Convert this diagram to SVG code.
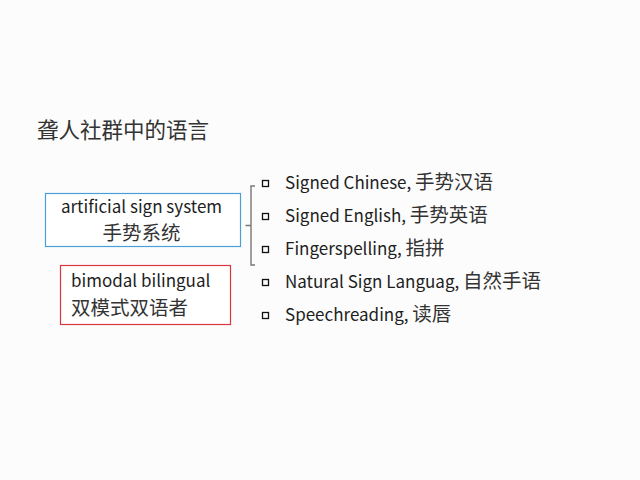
<svg xmlns="http://www.w3.org/2000/svg" width="640" height="480" viewBox="0 0 640 480">
<style>
text{font-family:"Noto Sans CJK SC","Noto Sans",sans-serif;fill:#1e1e1e}
.lat{font-size:17px}
.cjk{font-size:19.5px;fill:#333}
.title{font-size:21.5px;fill:#333}
.bul{fill:none;stroke:#111;stroke-width:1.3}
.brace{fill:none;stroke:#777;stroke-width:1.4}
</style>
<rect width="640" height="480" fill="#fcfcfc"/>
<g id="title"><text class="title" x="37" y="138">聋人社群中的语言</text></g>
<g id="box-artificial">
<rect x="45.5" y="193.5" width="195" height="53" fill="#fff" stroke="#4a9fd8" stroke-width="1.2"/>
<text class="lat" x="141.5" y="212.5" text-anchor="middle">artificial sign system</text>
<text class="cjk" x="141.5" y="240" text-anchor="middle">手势系统</text>
</g>
<g id="box-bimodal">
<rect x="60.5" y="265.5" width="170" height="59" fill="#fff" stroke="#d9363e" stroke-width="1.2"/>
<text class="lat" x="71" y="286.5">bimodal bilingual</text>
<text class="cjk" x="71" y="315">双模式双语者</text>
</g>
<g id="connectors">
<path class="brace" d="M255,186 H251 V225.5 H245.5 M251,225.5 V265 H255"/>
</g>
<g id="item1"><rect class="bul" x="262.5" y="180.5" width="6" height="6"/><text x="285" y="189"><tspan class="lat">Signed Chinese, </tspan><tspan class="cjk">手势汉语</tspan></text></g>
<g id="item2"><rect class="bul" x="262.5" y="213.5" width="6" height="6"/><text x="285" y="222"><tspan class="lat">Signed English, </tspan><tspan class="cjk">手势英语</tspan></text></g>
<g id="item3"><rect class="bul" x="262.5" y="246.5" width="6" height="6"/><text x="285" y="255"><tspan class="lat">Fingerspelling, </tspan><tspan class="cjk">指拼</tspan></text></g>
<g id="item4"><rect class="bul" x="262.5" y="279.5" width="6" height="6"/><text x="285" y="288"><tspan class="lat">Natural Sign Languag, </tspan><tspan class="cjk">自然手语</tspan></text></g>
<g id="item5"><rect class="bul" x="262.5" y="312.5" width="6" height="6"/><text x="285" y="321"><tspan class="lat">Speechreading, </tspan><tspan class="cjk">读唇</tspan></text></g>
</svg>
